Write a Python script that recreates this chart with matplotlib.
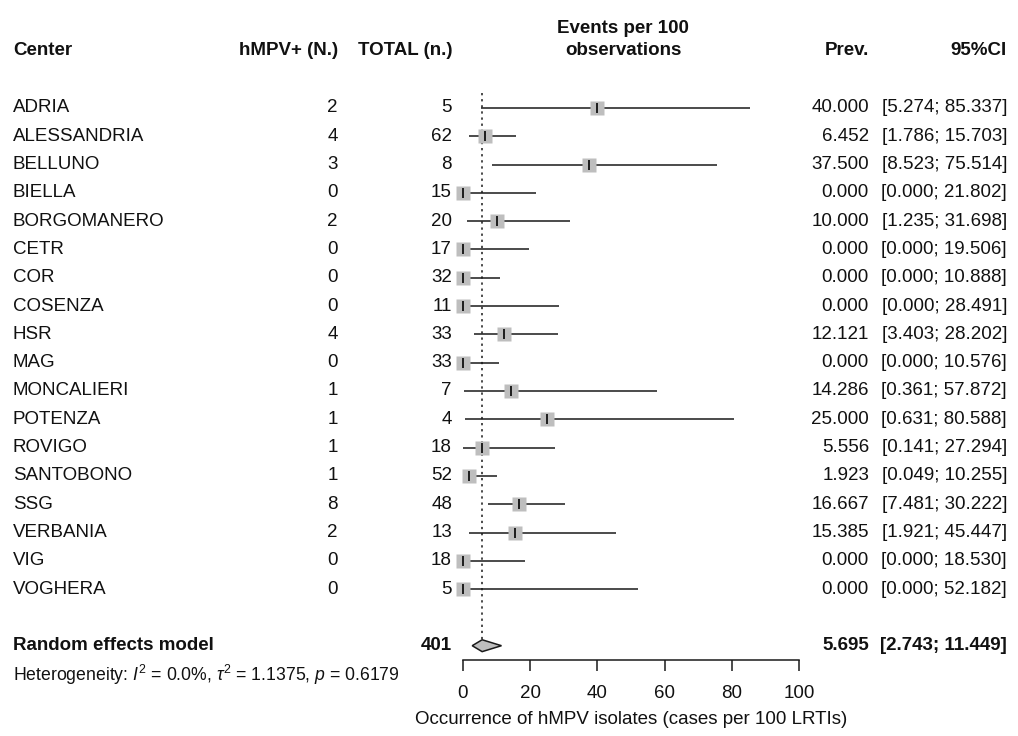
import matplotlib
matplotlib.use("Agg")
import matplotlib.pyplot as plt
from matplotlib.transforms import blended_transform_factory
from matplotlib.patches import Polygon

plt.rcParams["font.family"] = ["Liberation Sans", "DejaVu Sans"]
plt.rcParams["mathtext.fontset"] = "custom"
plt.rcParams["mathtext.rm"] = "Liberation Sans"
plt.rcParams["mathtext.it"] = "Liberation Sans:italic"

# Study-level data
centers = ["ADRIA", "ALESSANDRIA", "BELLUNO", "BIELLA", "BORGOMANERO", "CETR",
           "COR", "COSENZA", "HSR", "MAG", "MONCALIERI", "POTENZA", "ROVIGO",
           "SANTOBONO", "SSG", "VERBANIA", "VIG", "VOGHERA"]
positives = [2, 4, 3, 0, 2, 0, 0, 0, 4, 0, 1, 1, 1, 1, 8, 2, 0, 0]
totals = [5, 62, 8, 15, 20, 17, 32, 11, 33, 33, 7, 4, 18, 52, 48, 13, 18, 5]
prev = [40.000, 6.452, 37.500, 0.000, 10.000, 0.000, 0.000, 0.000, 12.121,
        0.000, 14.286, 25.000, 5.556, 1.923, 16.667, 15.385, 0.000, 0.000]
ci_low = [5.274, 1.786, 8.523, 0.000, 1.235, 0.000, 0.000, 0.000, 3.403,
          0.000, 0.361, 0.631, 0.141, 0.049, 7.481, 1.921, 0.000, 0.000]
ci_high = [85.337, 15.703, 75.514, 21.802, 31.698, 19.506, 10.888, 28.491,
           28.202, 10.576, 57.872, 80.588, 27.294, 10.255, 30.222, 45.447,
           18.530, 52.182]

# Pooled random-effects estimate
pooled_total = 401
pooled_est = 5.695
pooled_low = 2.743
pooled_high = 11.449
het_text = r"Heterogeneity: $I^2$ = 0.0%, $\tau^2$ = 1.1375, $p$ = 0.6179"

x_ticks = [0, 20, 40, 60, 80, 100]
x_label = "Occurrence of hMPV isolates (cases per 100 LRTIs)"

W, H = 1018, 736
fig = plt.figure(figsize=(W / 100, H / 100), dpi=100)

# Layout in pixels
row0_px, row_step = 108.0, 28.3
plot_left, plot_right = 463, 799


def row_of(px):
    return (px - row0_px) / row_step


ax = fig.add_axes([plot_left / W, 0, (plot_right - plot_left) / W, 1])
ax.set_xlim(0, 100)
ax.set_ylim(row_of(H), row_of(0))
ax.patch.set_visible(False)
for s in ["top", "left", "right"]:
    ax.spines[s].set_visible(False)
ax.set_yticks([])

n = len(centers)
rows = list(range(n))
pooled_row = n + 1
het_row = row_of(675)
axis_row = row_of(660)
hdr1_row = row_of(29)
hdr2_row = row_of(51)

# Bottom axis
ax.spines["bottom"].set_position(("data", axis_row))
ax.spines["bottom"].set_bounds(0, 100)
ax.spines["bottom"].set_linewidth(1.1)
ax.spines["bottom"].set_color("#1a1a1a")
ax.set_xticks(x_ticks)
ax.set_xticklabels([str(t) for t in x_ticks])
ax.tick_params(axis="x", direction="out", length=8, width=1.1, color="#1a1a1a",
               labelsize=13.5, pad=10, labelcolor="#111111")

line_col = "#1a1a1a"
box_col = "#BEBEBE"

# Reference line at pooled estimate
ax.plot([pooled_est, pooled_est], [row_of(93), pooled_row - 0.25],
        ls=(0, (1.5, 2.5)), color=line_col, lw=1.1, clip_on=False)

# Study CIs, boxes and point ticks
for i in rows:
    ax.plot([ci_low[i], ci_high[i]], [i, i], color=line_col, lw=1.1,
            solid_capstyle="butt", clip_on=False, zorder=2)
    ax.plot(prev[i], i, marker="s", ms=10.5, mfc=box_col, mec="none",
            clip_on=False, zorder=3)
    ax.plot(prev[i], i, marker="|", ms=7, mew=1.3, color="#111111",
            clip_on=False, zorder=4)

# Pooled diamond
dh = 0.21
diamond = Polygon([(pooled_low, pooled_row), (pooled_est, pooled_row - dh),
                   (pooled_high, pooled_row), (pooled_est, pooled_row + dh)],
                  closed=True, facecolor=box_col, edgecolor=line_col, lw=1.1,
                  clip_on=False, zorder=3)
ax.add_patch(diamond)

# Text columns: x in figure pixels, y in rows
tr = blended_transform_factory(fig.transFigure, ax.transData)
fs = 13.5
tc = "#111111"


def put(xpx, y, s, ha="left", bold=False, size=fs):
    ax.text(xpx / W, y, s, transform=tr, ha=ha, va="center", fontsize=size,
            fontweight="bold" if bold else "normal", color=tc, clip_on=False)


col_center, col_pos, col_tot, col_prev, col_ci = 13, 338, 452, 869, 1007
col_hdr = (plot_left + plot_right) / 2 - 8

put(col_center, hdr2_row, "Center", bold=True)
put(col_pos, hdr2_row, "hMPV+ (N.)", ha="right", bold=True)
put(col_tot, hdr2_row, "TOTAL (n.)", ha="right", bold=True)
put(col_hdr, hdr1_row, "Events per 100", ha="center", bold=True)
put(col_hdr, hdr2_row, "observations", ha="center", bold=True)
put(col_prev, hdr2_row, "Prev.", ha="right", bold=True)
put(col_ci, hdr2_row, "95%CI", ha="right", bold=True)

for i in rows:
    put(col_center, i, centers[i])
    put(col_pos, i, str(positives[i]), ha="right")
    put(col_tot, i, str(totals[i]), ha="right")
    put(col_prev, i, f"{prev[i]:.3f}", ha="right")
    put(col_ci, i, f"[{ci_low[i]:.3f}; {ci_high[i]:.3f}]", ha="right")

put(col_center, pooled_row, "Random effects model", bold=True)
put(col_tot, pooled_row, str(pooled_total), ha="right", bold=True)
put(col_prev, pooled_row, f"{pooled_est:.3f}", ha="right", bold=True)
put(col_ci, pooled_row, f"[{pooled_low:.3f}; {pooled_high:.3f}]", ha="right", bold=True)
put(col_center, het_row, het_text, size=12.7)

ax.text((plot_left + plot_right) / 2 / W, row_of(720), x_label, transform=tr,
        ha="center", va="center", fontsize=13.5, color=tc, clip_on=False)

fig.savefig("out.png", dpi=100)
